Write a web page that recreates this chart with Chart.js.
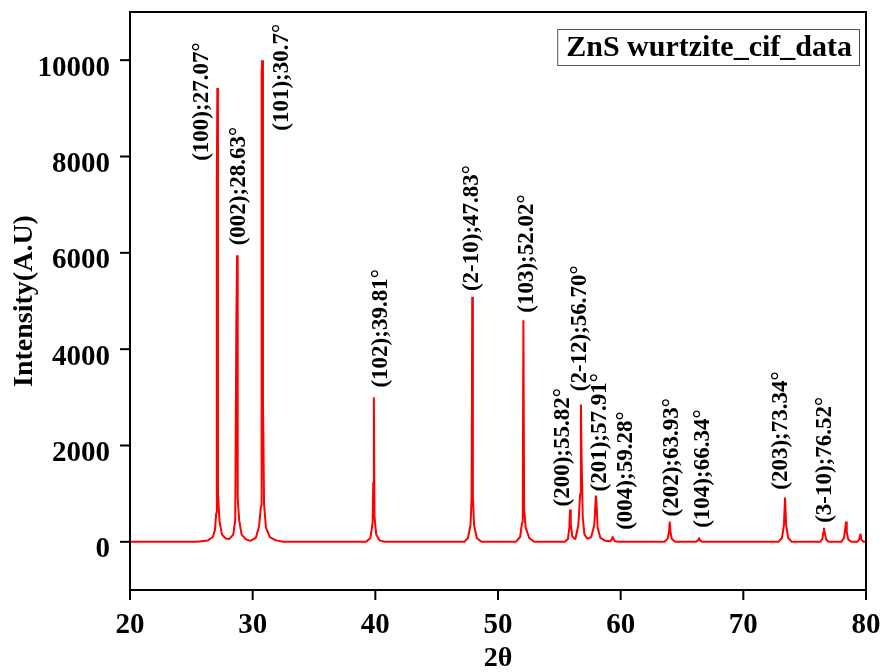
<!DOCTYPE html>
<html>
<head>
<meta charset="utf-8">
<script src="https://cdn.jsdelivr.net/npm/chart.js@4.4.1/dist/chart.umd.min.js"></script>
<style>
  html, body { margin: 0; padding: 0; background: #fff; }
  canvas { display: block; }
</style>
</head>
<body>
<canvas id="xrd" width="887" height="672"></canvas>
<script>
// 2θ (deg) と強度
const twoTheta = [
  20, 25.5, 26.35, 26.75, 26.93, 27.03, 27.08, 27.12, 27.17, 27.3, 27.5, 27.8, 28.1,
  28.42, 28.58, 28.67, 28.73, 28.78, 28.9, 29.1, 29.45, 29.8,
  30.25, 30.52, 30.68, 30.73, 30.78, 30.84, 30.93, 31.08, 31.4, 31.9, 32.5,
  39.25, 39.6, 39.78, 39.83, 39.88, 39.93, 40.07, 40.35, 40.75,
  47.25, 47.55, 47.76, 47.85, 47.9, 47.95, 48.05, 48.27, 48.65,
  51.45, 51.8, 51.96, 52.02, 52.07, 52.13, 52.25, 52.55, 52.95,
  55.45, 55.7, 55.82, 55.87, 55.93, 56.05, 56.3,
  56.55, 56.7, 56.76, 56.81, 56.91, 57.05, 57.3, 57.6,
  57.85, 57.98, 58.03, 58.12, 58.35, 58.75,
  59.15, 59.29, 59.35, 59.41, 59.55, 59.9,
  63.55, 63.82, 63.94, 64.0, 64.06, 64.17, 64.45,
  66.15, 66.32, 66.38, 66.44, 66.65,
  72.85, 73.15, 73.31, 73.4, 73.49, 73.66, 73.95,
  76.25, 76.45, 76.52, 76.57, 76.63, 76.75, 76.95,
  78.0, 78.2, 78.3, 78.37, 78.43, 78.55, 78.8,
  79.3, 79.45, 79.55, 79.62, 79.8, 80
];
const intensity = [
  0, 0, 30, 100, 250, 600, 7500, 9420, 1000, 420, 150, 70, 60,
  150, 450, 4600, 5950, 900, 450, 150, 50, 20,
  80, 320, 750, 9750, 10000, 2900, 780, 300, 100, 30, 0,
  0, 80, 400, 1230, 3000, 530, 150, 30, 0,
  0, 80, 350, 940, 5090, 940, 350, 80, 0,
  0, 100, 400, 800, 4600, 700, 300, 80, 0,
  0, 60, 300, 670, 380, 120, 50,
  350, 1000, 2850, 1770, 500, 150, 60, 100,
  350, 960, 800, 300, 80, 20,
  10, 60, 110, 60, 10, 0,
  0, 60, 200, 420, 200, 60, 0,
  0, 40, 90, 40, 0,
  0, 80, 350, 920, 350, 80, 0,
  0, 60, 200, 290, 200, 50, 0,
  0, 80, 260, 420, 200, 50, 0,
  0, 50, 170, 50, 0, 0
];

// ピーク注記 (文字列, 位置 2θ, 文字の下端の強度)
const peakLabels = [
  "(100);27.07°", "(002);28.63°", "(101);30.7°", "(102);39.81°", "(2-10);47.83°",
  "(103);52.02°", "(200);55.82°", "(2-12);56.70°", "(201);57.91°", "(004);59.28°",
  "(202);63.93°", "(104);66.34°", "(203);73.34°", "(3-10);76.52°"
];
const labelX = [25.85, 28.92, 32.37, 40.44, 47.86, 52.34, 55.27, 56.68, 58.31, 60.43, 64.16, 66.74, 73.05, 76.66];
const labelY = [7910, 6156, 8534, 3203, 5206, 4757, 734, 3126, 1046, 250, 526, 291, 1081, 395];

const legendText = "ZnS wurtzite_cif_data";

const FONT = "'Liberation Serif', 'Times New Roman', serif";
Chart.defaults.font.family = FONT;
Chart.defaults.font.weight = 'bold';
Chart.defaults.color = '#000';

const points = twoTheta.map((x, i) => ({ x: x, y: intensity[i] }));

// 枠・目盛り・注記・凡例
const decorPlugin = {
  id: 'decor',
  afterDraw(chart) {
    const ctx = chart.ctx;
    const { left, right, top, bottom } = chart.chartArea;
    const xs = chart.scales.x, ys = chart.scales.y;
    ctx.save();

    // ピーク注記
    ctx.fillStyle = '#000';
    ctx.font = "bold 23px " + FONT;
    ctx.textAlign = 'left';
    ctx.textBaseline = 'middle';
    peakLabels.forEach((txt, i) => {
      const px = xs.getPixelForValue(labelX[i]);
      const py = ys.getPixelForValue(labelY[i]);
      ctx.save();
      ctx.translate(px, py);
      ctx.rotate(-Math.PI / 2);
      ctx.fillText(txt, 0, 0);
      ctx.restore();
    });

    // 凡例
    ctx.font = "bold 30px " + FONT;
    const tw = ctx.measureText(legendText).width;
    const bx1 = right - 7, bx0 = bx1 - tw - 16;
    const by0 = top + 17, bh = 36;
    ctx.fillStyle = '#fff';
    ctx.fillRect(bx0, by0, bx1 - bx0, bh);
    ctx.strokeStyle = '#555';
    ctx.lineWidth = 1;
    ctx.strokeRect(bx0 + 0.5, by0 + 0.5, bx1 - bx0, bh);
    ctx.fillStyle = '#000';
    ctx.textBaseline = 'middle';
    ctx.fillText(legendText, bx0 + 9, by0 + bh / 2 + 1);

    // 枠
    ctx.strokeStyle = '#000';
    ctx.lineWidth = 2;
    ctx.strokeRect(left, top, right - left, bottom - top);

    // 目盛り
    xs.ticks.forEach(t => {
      const px = xs.getPixelForValue(t.value);
      const len = t.label != null ? 10 : 5;
      ctx.beginPath();
      ctx.moveTo(px, bottom);
      ctx.lineTo(px, bottom + len);
      ctx.stroke();
    });
    ys.ticks.forEach(t => {
      const py = ys.getPixelForValue(t.value);
      const len = t.label != null ? 10 : 5;
      ctx.beginPath();
      ctx.moveTo(left, py);
      ctx.lineTo(left - len, py);
      ctx.stroke();
    });
    ctx.restore();
  }
};

new Chart(document.getElementById('xrd'), {
  type: 'line',
  data: {
    datasets: [{
      data: points,
      borderColor: '#ff0000',
      borderWidth: 2,
      borderJoinStyle: 'bevel',
      pointRadius: 0,
      tension: 0,
      fill: false
    }]
  },
  options: {
    responsive: false,
    animation: false,
    layout: { padding: { left: 0, top: 12, right: 21, bottom: 0 } },
    plugins: {
      legend: { display: false },
      tooltip: { enabled: false }
    },
    scales: {
      x: {
        type: 'linear',
        min: 20,
        max: 80,
        grid: { display: true, drawOnChartArea: false, color: 'transparent', tickLength: 10 },
        border: { display: false },
        ticks: {
          stepSize: 5,
          autoSkip: false,
          maxRotation: 0,
          padding: 8,
          font: { size: 29, weight: 'bold' },
          callback: v => (v % 10 === 0 ? String(v) : null)
        },
        title: { display: true, text: '2θ', font: { size: 28, weight: 'bold' }, padding: { top: 0, bottom: -4 } },
        afterFit: s => { s.height = 82; s.paddingLeft = 0; s.paddingRight = 0; }
      },
      y: {
        min: -1000,
        max: 11000,
        grid: { display: true, drawOnChartArea: false, color: 'transparent', tickLength: 10 },
        border: { display: false },
        ticks: {
          stepSize: 1000,
          autoSkip: false,
          padding: 10,
          labelOffset: 8,
          font: { size: 29, weight: 'bold' },
          callback: v => (v >= 0 && v % 2000 === 0 ? String(v) : null)
        },
        title: { display: true, text: 'Intensity(A.U)', font: { size: 28, weight: 'bold' }, padding: { top: 8, bottom: 0 } },
        afterFit: s => { s.width = 130; s.paddingTop = 0; s.paddingBottom = 0; }
      }
    }
  },
  plugins: [decorPlugin]
});
</script>
</body>
</html>
